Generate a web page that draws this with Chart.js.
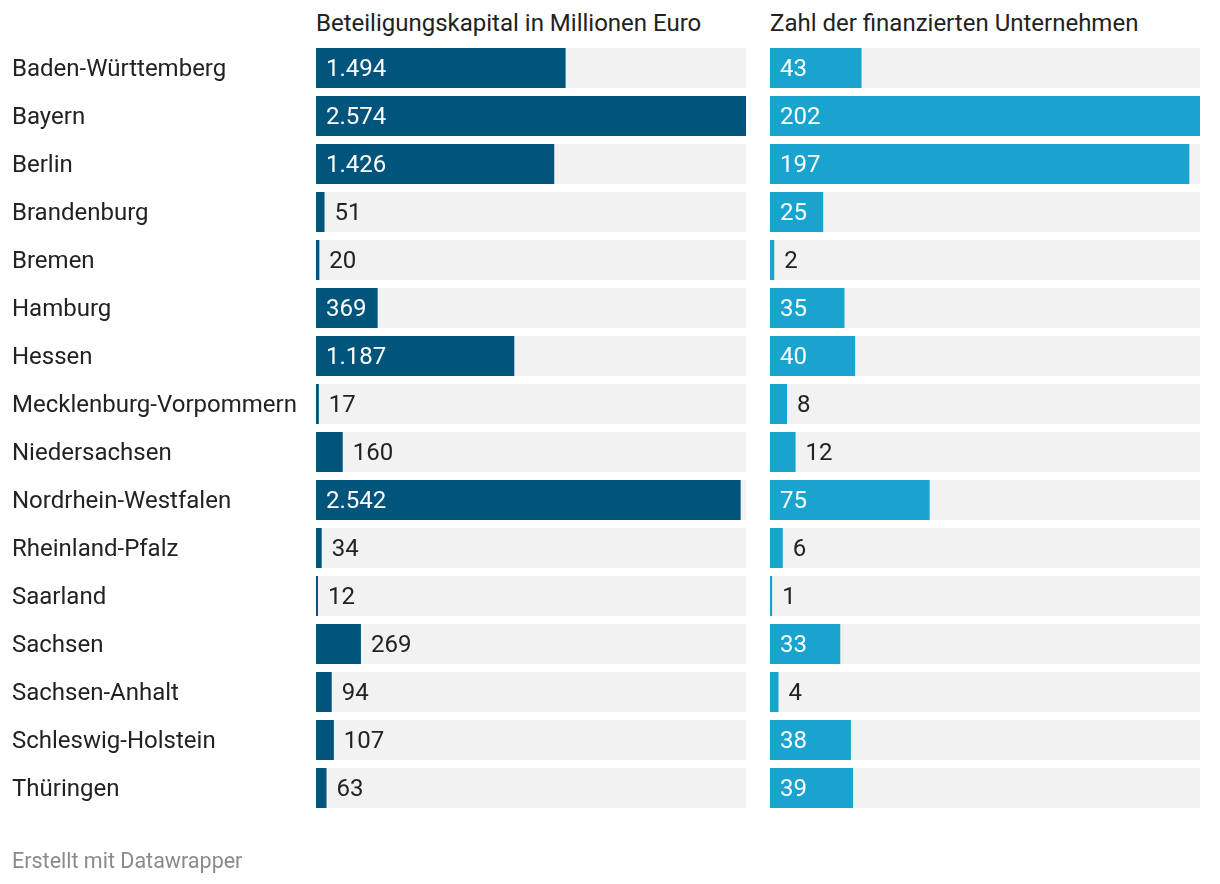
<!DOCTYPE html>
<html>
<head>
<meta charset="utf-8">
<script src="https://cdn.jsdelivr.net/npm/chart.js@4/dist/chart.umd.min.js"></script>
<style>
  html, body { margin: 0; padding: 0; background: #ffffff; }
  body { width: 1220px; height: 884px; position: relative; overflow: hidden; font-family: Roboto, "Noto Sans", sans-serif; }
  .box { position: absolute; top: 0; height: 850px; }
  .hdr { position: absolute; top: 8px; font-size: 24px; color: #222; white-space: nowrap; line-height: 30px; }
  .foot { position: absolute; left: 12px; top: 846px; font-size: 21.5px; color: #8a8a8a; line-height: 30px; }
</style>
</head>
<body>
<div class="hdr" id="h1" style="left:316px">Beteiligungskapital in Millionen Euro</div>
<div class="hdr" id="h2" style="left:770px">Zahl der finanzierten Unternehmen</div>
<div class="box" style="left:0; width:746px;"><canvas id="c1"></canvas></div>
<div class="box" style="left:770px; width:430px;"><canvas id="c2"></canvas></div>
<div class="foot">Erstellt mit Datawrapper</div>
<script>
const states = ["Baden-Württemberg","Bayern","Berlin","Brandenburg","Bremen","Hamburg","Hessen","Mecklenburg-Vorpommern","Niedersachsen","Nordrhein-Westfalen","Rheinland-Pfalz","Saarland","Sachsen","Sachsen-Anhalt","Schleswig-Holstein","Thüringen"];
const capital = [1494,2574,1426,51,20,369,1187,17,160,2542,34,12,269,94,107,63];
const companies = [43,202,197,25,2,35,40,8,12,75,6,1,33,4,38,39];
const headers = ["Beteiligungskapital in Millionen Euro","Zahl der finanzierten Unternehmen"];

const FONT = "Roboto, 'Noto Sans', sans-serif";
const DARK = "#01547b";
const LIGHT = "#19a3cf";
const TRACK = "#f2f2f2";
const TEXT = "#222222";

function fmt(v) {
  return String(v).replace(/\B(?=(\d{3})+(?!\d))/g, ".");
}

const valueLabels = {
  id: "valueLabels",
  afterDatasetsDraw(chart) {
    const ctx = chart.ctx;
    const meta = chart.getDatasetMeta(1);
    const data = chart.data.datasets[1].data;
    ctx.save();
    ctx.font = "24px " + FONT;
    ctx.textBaseline = "middle";
    ctx.textAlign = "left";
    const pad = 10;
    meta.data.forEach((bar, i) => {
      const txt = fmt(data[i]);
      const w = ctx.measureText(txt).width;
      const start = Math.min(bar.base, bar.x);
      const end = Math.max(bar.base, bar.x);
      if (w + 2 * pad <= end - start) {
        ctx.fillStyle = "#ffffff";
        ctx.fillText(txt, start + pad, bar.y + 2);
      } else {
        ctx.fillStyle = TEXT;
        ctx.fillText(txt, end + pad, bar.y + 2);
      }
    });
    ctx.restore();
  }
};

function makeChart(id, values, color, showLabels) {
  const maxV = Math.max(...values);
  return new Chart(document.getElementById(id), {
    type: "bar",
    data: {
      labels: states,
      datasets: [
        { data: values.map(() => maxV), backgroundColor: TRACK, order: 2, grouped: false,
          categoryPercentage: 1, barPercentage: 40/48, borderWidth: 0 },
        { data: values, backgroundColor: color, order: 1, grouped: false,
          categoryPercentage: 1, barPercentage: 40/48, borderWidth: 0 }
      ]
    },
    options: {
      indexAxis: "y",
      responsive: true,
      maintainAspectRatio: false,
      animation: false,
      events: [],
      layout: { padding: { left: showLabels ? 12 : 0, right: 0, top: 44, bottom: 38 } },
      plugins: { legend: { display: false }, tooltip: { enabled: false }, title: { display: false } },
      scales: {
        x: { display: false, min: 0, max: maxV },
        y: {
          display: showLabels,
          grid: { display: false },
          border: { display: false },
          ticks: { crossAlign: "far", padding: 0, labelOffset: 2, color: TEXT, font: { family: FONT, size: 24 } },
          afterFit(scale) { if (showLabels) scale.width = 304; }
        }
      }
    },
    plugins: [valueLabels]
  });
}

document.getElementById("h1").textContent = headers[0];
document.getElementById("h2").textContent = headers[1];
makeChart("c1", capital, DARK, true);
makeChart("c2", companies, LIGHT, false);
</script>
</body>
</html>
